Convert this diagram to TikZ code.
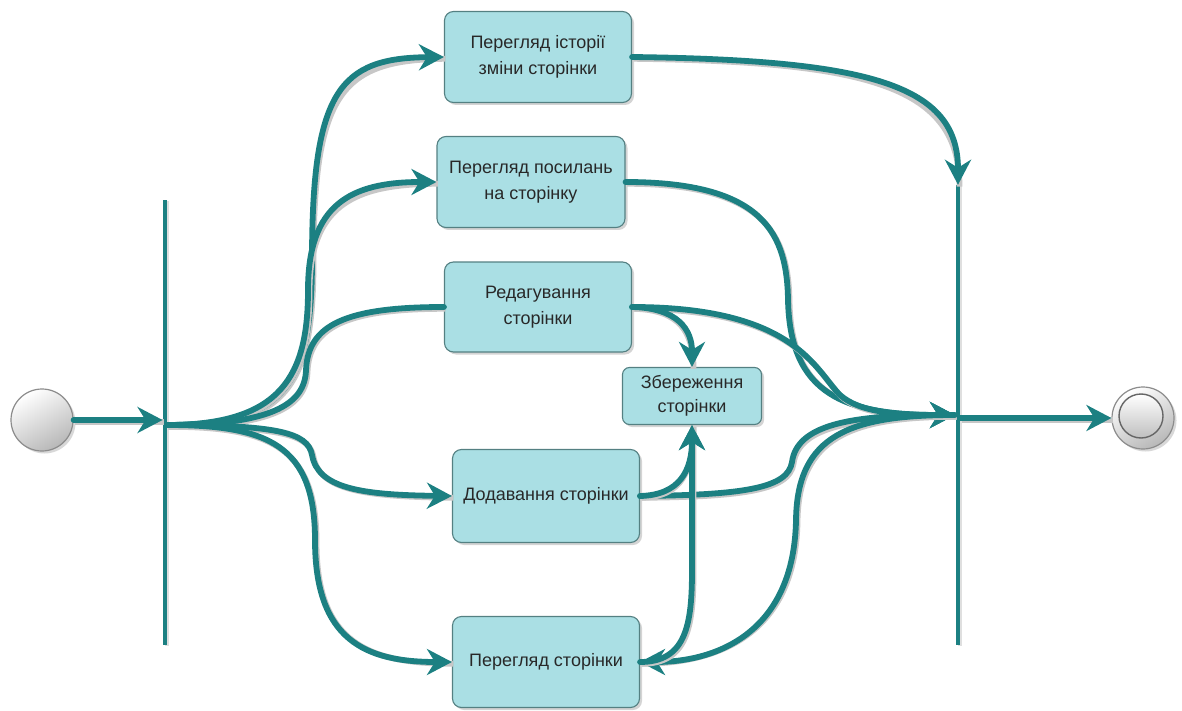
\documentclass[tikz,border=0pt]{standalone}
\usepackage{fontspec}
\setmainfont{Liberation Sans}
\usetikzlibrary{arrows.meta,shadows,calc}

\definecolor{flow}{RGB}{28,128,130}
\definecolor{boxfill}{RGB}{170,223,228}
\definecolor{boxline}{RGB}{84,128,130}
\definecolor{txt}{RGB}{40,40,40}

\tikzset{
  activity/.style={draw=boxline, line width=1.1pt, fill=boxfill, rounded corners=9pt,
    align=center, text=txt, font=\fontsize{18}{26}\selectfont,
    drop shadow={shadow xshift=2.5pt, shadow yshift=-2.5pt, fill=black!28, opacity=0.6}},
  bar/.style={fill=flow, draw=none, minimum width=4.5pt, inner sep=0pt,
    drop shadow={shadow xshift=2pt, shadow yshift=-1pt, fill=black!25, opacity=0.5}},
  flowline/.style={draw=flow, line width=5.8pt, line cap=round,
    preaction={draw=black!22, line width=5.8pt, -, transform canvas={xshift=1.5pt, yshift=-1.8pt}}},
  arr/.style={flowline, -{Stealth[length=25pt, width=26pt, inset=8pt]}},
  startnode/.style={circle, minimum size=62pt, inner sep=0pt, draw=black!45, line width=1.2pt,
    top color=white, bottom color=black!28, shading angle=30,
    drop shadow={shadow xshift=2.5pt, shadow yshift=-2.5pt, fill=black!30, opacity=0.5}},
}

\begin{document}
\begin{tikzpicture}[x=1pt, y=-1pt]
  \useasboundingbox (0,0) rectangle (1182,711);

  % initial and final states
  \node[startnode] (start) at (42,420) {};
  \node[startnode] (finish) at (1143,418) {};
  \node[circle, minimum size=44pt, inner sep=0pt, draw=black!60, line width=1.4pt,
        top color=white, bottom color=black!25] (finishin) at (1141,416) {};

  % fork and join bars
  \node[bar, minimum height=445pt] (fork) at (165,422.5) {};
  \node[bar, minimum height=460pt] (join) at (958,415) {};
  \coordinate (fo) at (167,425);
  \coordinate (jo) at (955,415);

  % activities
  \node[activity, minimum width=187pt, minimum height=91pt] (hist) at (538,57)
    {Перегляд історії\\зміни сторінки};
  \node[activity, minimum width=188pt, minimum height=91pt] (links) at (531,182)
    {Перегляд посилань\\на сторінку};
  \node[activity, minimum width=187pt, minimum height=90pt] (edit) at (538,307)
    {Редагування\\сторінки};
  \node[activity, minimum width=139pt, minimum height=57pt, rounded corners=7pt, inner sep=2pt,
        font=\fontsize{18}{24}\selectfont] (save) at (692,396)
    {Збереження\\сторінки};
  \node[activity, minimum width=187pt, minimum height=93pt] (add) at (546,496)
    {Додавання сторінки};
  \node[activity, minimum width=187pt, minimum height=91pt] (view) at (546,662)
    {Перегляд сторінки};

  % start into fork
  \draw[arr] (start.east) -- (start.east -| fork.west);

  % fork branches
  \draw[arr] (fo) .. controls (285,425) and (312,385) .. (312,260)
             .. controls (312,90) and (340,58) .. (hist.west);
  \draw[arr] (fo) .. controls (282,425) and (308,375) .. (308,290)
             .. controls (308,205) and (350,182) .. (links.west);
  \draw[flowline] (fo) .. controls (270,425) and (305,405) .. (306,370)
             .. controls (308,325) and (345,307) .. (edit.west);
  \draw[arr] (fo) .. controls (275,425) and (308,432) .. (312,455)
             .. controls (318,488) and (360,495) .. (add.west);
  \draw[arr] (fo) .. controls (268,425) and (315,445) .. (315,540)
             .. controls (315,640) and (365,662) .. (view.west);

  % into the join
  \draw[arr] (hist.east) .. controls (870,60) and (958,85) .. (join.north);
  \draw[arr] (links.east) .. controls (765,182) and (787,235) .. (788,300)
             .. controls (790,395) and (845,415) .. (jo);
  \draw[arr] (edit.east) .. controls (795,307) and (815,370) .. (840,395)
             .. controls (860,413) and (900,415) .. (jo);
  \draw[arr] (add.east) .. controls (745,495) and (788,488) .. (792,462)
             .. controls (797,425) and (850,415) .. (jo);
  \draw[arr] (jo) .. controls (850,415) and (797,435) .. (796,520)
             .. controls (794,630) and (720,662) .. (view.east);

  % saving a page
  \draw[arr] (edit.east) .. controls (678,308) and (692,330) .. (save.north);
  \draw[arr] (add.east) .. controls (680,495) and (692,470) .. (save.south);
  \draw[arr] (view.east) .. controls (686,662) and (692,625) .. (692,570) -- (save.south);

  % join to final state
  \draw[arr] (finish.west -| join.east) -- (finish.west);
\end{tikzpicture}
\end{document}
